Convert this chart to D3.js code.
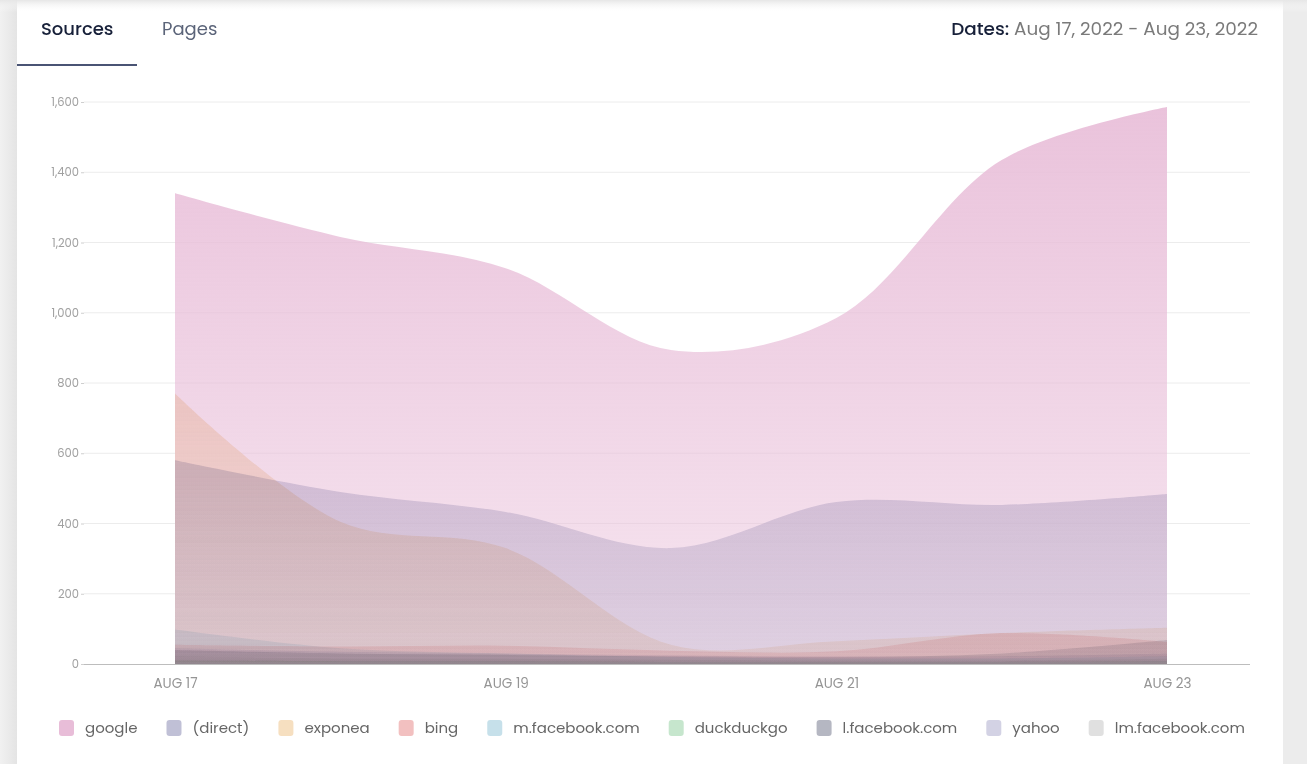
<!DOCTYPE html>
<html>
<head>
<meta charset="utf-8">
<script src="https://cdn.jsdelivr.net/npm/d3@7"></script>
<style>
  body { margin: 0; background: #efefef; font-family: Poppins, Inter, "Noto Sans", sans-serif; overflow: hidden; }
  #chart svg { display: block; }
</style>
</head>
<body>
<div id="chart"></div>
<script>
const width = 1307;
const height = 764;

const days = ["2022-08-17", "2022-08-18", "2022-08-19", "2022-08-20", "2022-08-21", "2022-08-22", "2022-08-23"];
const seriesNames = ["google", "(direct)", "exponea", "bing", "m.facebook.com", "duckduckgo", "l.facebook.com", "yahoo", "lm.facebook.com"];
const seriesColors = ["#e8bdd8", "#c0c0d6", "#f6dfc0", "#f2c0c0", "#c6e0ea", "#c6e6cd", "#b5b7c2", "#d3d2e4", "#e0e0e0"];

const google = [1340, 1216, 1127, 894, 985, 1435, 1586];
const direct = [580, 490, 433, 330, 461, 453, 484];
const exponea = [770, 405, 330, 55, 65, 88, 103];
const bing = [55, 50, 52, 38, 36, 88, 63];
const mFacebook = [98, 45, 30, 20, 16, 16, 22];
const duckduckgo = [10, 8, 8, 6, 6, 6, 8];
const lFacebook = [40, 30, 26, 22, 20, 30, 68];
const yahoo = [45, 35, 30, 25, 22, 22, 30];
const lmFacebook = [22, 16, 15, 12, 10, 10, 15];

const seriesValues = [google, direct, exponea, bing, mFacebook, duckduckgo, lFacebook, yahoo, lmFacebook];
const yTicks = [0, 200, 400, 600, 800, 1000, 1200, 1400, 1600];

const parse = d3.timeParse("%Y-%m-%d");
const dates = days.map(parse);

const svg = d3.select("#chart")
  .append("svg")
  .attr("width", width)
  .attr("height", height);

const defs = svg.append("defs");

// page + card
const shade = defs.append("linearGradient").attr("id", "leftShade");
shade.append("stop").attr("offset", "0%").attr("stop-color", "#f1f1f1");
shade.append("stop").attr("offset", "100%").attr("stop-color", "#e4e4e4");
svg.append("rect").attr("x", 0).attr("y", 0).attr("width", 17).attr("height", height).attr("fill", "url(#leftShade)");
svg.append("rect").attr("x", 1283).attr("y", 0).attr("width", 24).attr("height", height).attr("fill", "#ececec");
svg.append("rect").attr("x", 17).attr("y", 0).attr("width", 1266).attr("height", height).attr("fill", "#fff");

const topShade = defs.append("linearGradient").attr("id", "topShade")
  .attr("x1", 0).attr("y1", 0).attr("x2", 0).attr("y2", 1);
topShade.append("stop").attr("offset", "0%").attr("stop-color", "#e6e6e6").attr("stop-opacity", 1);
topShade.append("stop").attr("offset", "100%").attr("stop-color", "#ffffff").attr("stop-opacity", 0);
svg.append("rect").attr("x", 0).attr("y", 0).attr("width", width).attr("height", 12).attr("fill", "url(#topShade)");

// tabs
svg.append("text").attr("x", 41).attr("y", 35).attr("font-size", 18).attr("font-weight", 500)
  .attr("fill", "#172039").text("Sources");
svg.append("text").attr("x", 162).attr("y", 35).attr("font-size", 18).attr("font-weight", 400)
  .attr("fill", "#5b6479").text("Pages");
svg.append("rect").attr("x", 17).attr("y", 64).attr("width", 120).attr("height", 2).attr("fill", "#4a5474");

const dates_t = svg.append("text").attr("x", 1258).attr("y", 35).attr("font-size", 18.4)
  .attr("text-anchor", "end");
dates_t.append("tspan").attr("fill", "#172039").attr("font-weight", 500).text("Dates: ");
dates_t.append("tspan").attr("fill", "#7a7a7a").text("Aug 17, 2022 - Aug 23, 2022");

// scales
const x = d3.scaleTime()
  .domain(d3.extent(dates))
  .range([175, 1167]);

const y = d3.scaleLinear()
  .domain([0, 1600])
  .range([664, 102]);

const gridLeft = 84;
const gridRight = 1250;

// grid
svg.append("g")
  .selectAll("line")
  .data(yTicks.slice(1))
  .join("line")
  .attr("x1", gridLeft)
  .attr("x2", gridRight)
  .attr("y1", d => y(d))
  .attr("y2", d => y(d))
  .attr("stroke", "#ececec")
  .attr("stroke-width", 1);

// areas
const area = d3.area()
  .x((d, i) => x(dates[i]))
  .y0(y(0))
  .y1(d => y(d))
  .curve(d3.curveCatmullRom);

// one vertical fade over the whole plot height
seriesNames.forEach((name, k) => {
  const g = defs.append("linearGradient")
    .attr("id", "grad" + k)
    .attr("gradientUnits", "userSpaceOnUse")
    .attr("x1", 0).attr("y1", y(1600)).attr("x2", 0).attr("y2", y(0));
  g.append("stop").attr("offset", "0%").attr("stop-color", seriesColors[k]).attr("stop-opacity", 0.92);
  g.append("stop").attr("offset", "100%").attr("stop-color", seriesColors[k]).attr("stop-opacity", 0.38);
});

svg.append("g")
  .style("isolation", "isolate")
  .selectAll("path")
  .data(seriesValues)
  .join("path")
  .attr("d", d => area(d))
  .attr("fill", (d, k) => `url(#grad${k})`)
  .style("mix-blend-mode", "multiply");

// y axis
const yAxis = d3.axisLeft(y)
  .tickValues(yTicks)
  .tickSize(3)
  .tickPadding(2)
  .tickFormat(d3.format(","));

const yG = svg.append("g")
  .attr("transform", `translate(${gridLeft}, 0)`)
  .call(yAxis);
yG.select(".domain").remove();
yG.selectAll(".tick line").attr("stroke", "#cfcfcf");
yG.selectAll(".tick text")
  .attr("fill", "#a0a0a0")
  .attr("font-size", 11.5)
  .attr("font-weight", 400)
  .attr("font-family", "Poppins, Inter, sans-serif");

// x axis
const xAxis = d3.axisBottom(x)
  .tickValues(dates.filter((d, i) => i % 2 === 0))
  .tickSize(0)
  .tickPadding(14)
  .tickFormat(d => d3.timeFormat("%b %d")(d).toUpperCase());

const xG = svg.append("g")
  .attr("transform", `translate(0, ${y(0)})`)
  .call(xAxis);
xG.select(".domain").remove();
xG.selectAll(".tick text")
  .attr("fill", "#959595")
  .attr("font-size", 13.5)
  .attr("font-weight", 400)
  .attr("font-family", "Poppins, Inter, sans-serif");

svg.append("line")
  .attr("x1", gridLeft)
  .attr("x2", gridRight)
  .attr("y1", y(0) + 0.5)
  .attr("y2", y(0) + 0.5)
  .attr("stroke", "#bdbdbd");

// legend
const legend = svg.append("g").attr("transform", "translate(0, 728)");
let lx = 59;
seriesNames.forEach((name, k) => {
  const item = legend.append("g").attr("transform", `translate(${lx}, 0)`);
  item.append("rect")
    .attr("x", 0).attr("y", -8)
    .attr("width", 15).attr("height", 16)
    .attr("rx", 3)
    .attr("fill", seriesColors[k]);
  const t = item.append("text")
    .attr("x", 26).attr("y", 5)
    .attr("font-size", 15)
    .attr("fill", "#666")
    .text(name);
  lx += 26 + t.node().getComputedTextLength() + 29;
});
</script>
</body>
</html>
